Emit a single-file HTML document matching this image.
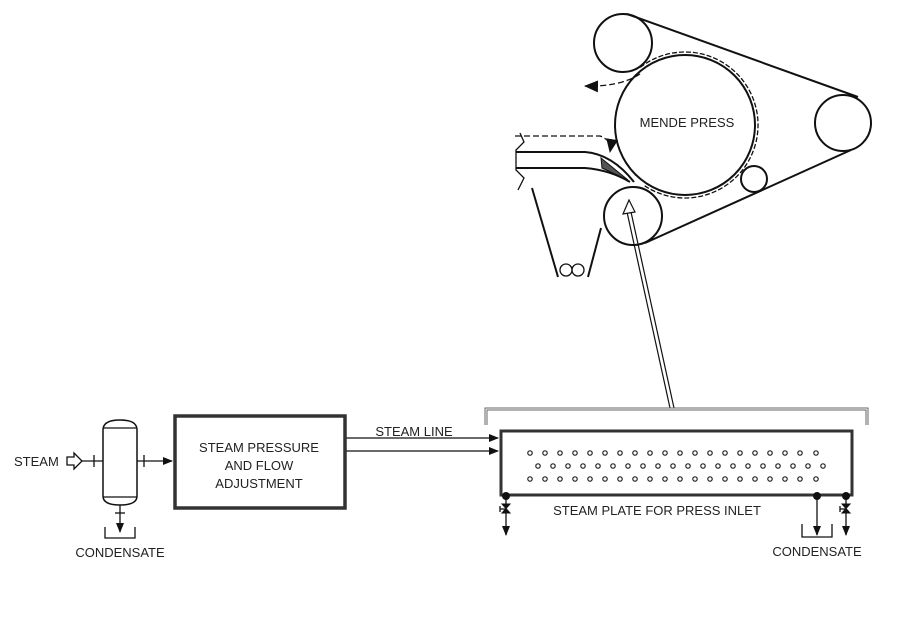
<!DOCTYPE html>
<html><head><meta charset="utf-8"><style>
body{margin:0;background:#fff}
svg{display:block}
text{font-family:"Liberation Sans",sans-serif;font-size:13px;fill:#222}
</style></head><body>
<svg width="900" height="630" viewBox="0 0 900 630" xmlns="http://www.w3.org/2000/svg">
<defs>
<marker id="a" markerWidth="10" markerHeight="8" refX="9" refY="4" orient="auto" markerUnits="userSpaceOnUse"><path d="M0,0L10,4L0,8Z" fill="#111"/></marker>
<marker id="b" markerWidth="14" markerHeight="12" refX="13" refY="6" orient="auto" markerUnits="userSpaceOnUse"><path d="M0,0L14,6L0,12Z" fill="#111"/></marker>
</defs>
<g fill="none" stroke="#111" stroke-width="2">
<circle cx="685" cy="125" r="70"/>
<path d="M640.3,67.3 A73,73 0 1 1 644.5,185.7" stroke-dasharray="5,2" stroke-width="1.3"/>
<circle cx="623" cy="43" r="29"/>
<circle cx="843" cy="123" r="28"/>
<circle cx="754" cy="179" r="13"/>
<circle cx="633" cy="216" r="29"/>
<line x1="627" y1="14" x2="858" y2="97"/>
<line x1="851" y1="150" x2="645" y2="243"/>
<path d="M640,74 Q620,87 585,86" stroke-dasharray="6,3" stroke-width="1.3" marker-end="url(#b)"/>
<path d="M515,136 L600,136 Q612,140 610,152" stroke-dasharray="6,3" stroke-width="1.3" marker-end="url(#b)"/>
<path d="M516,152 L585,152 Q612,154 634,182"/>
<path d="M516,168 L585,168 Q610,170 630,182"/>
<path d="M601,158 L602,168 L628,180 Z" fill="#555" stroke-width="1"/>
<path d="M520,133 L524,142 L516,150 L516,170 L524,178 L518,190" stroke-width="1.3"/>
<line x1="532" y1="188" x2="558" y2="277"/>
<line x1="601" y1="228" x2="588" y2="277"/>
<circle cx="566" cy="270" r="6" stroke-width="1.3"/>
<circle cx="578" cy="270" r="6" stroke-width="1.3"/>
<line x1="674" y1="408" x2="631" y2="212" stroke-width="1.2"/>
<line x1="670" y1="408" x2="627" y2="212" stroke-width="1.2"/>
<path d="M629,200 L623,214 L635,212 Z" fill="#fff" stroke-width="1.2"/>
<path d="M486,425 L486,409 L867,409 L867,425" stroke="#666" stroke-width="3"/>
<path d="M486,425 L486,409 L867,409 L867,425" stroke="#fff" stroke-width="1"/>
<rect x="501" y="431" width="351" height="64" stroke-width="3" stroke="#333"/>
<line x1="345" y1="438" x2="498" y2="438" stroke-width="1.3" marker-end="url(#a)"/>
<line x1="345" y1="451" x2="498" y2="451" stroke-width="1.3" marker-end="url(#a)"/>
<rect x="175" y="416" width="170" height="92" stroke-width="3.5" stroke="#333"/>
<path d="M103,430 Q103,420 120,420 Q137,420 137,430 L137,496 Q137,505 120,505 Q103,505 103,496 Z" stroke-width="1.5"/>
<line x1="103" y1="428" x2="137" y2="428" stroke-width="1.2"/>
<line x1="103" y1="497" x2="137" y2="497" stroke-width="1.2"/>
<path d="M67,457 L74,457 L74,453 L82,461 L74,469 L74,465 L67,465 Z" stroke-width="1.3"/>
<line x1="82" y1="461" x2="103" y2="461" stroke-width="1.3"/>
<line x1="94" y1="455" x2="94" y2="467" stroke-width="1.3"/>
<line x1="137" y1="461" x2="172" y2="461" stroke-width="1.3" marker-end="url(#a)"/>
<line x1="144" y1="455" x2="144" y2="467" stroke-width="1.3"/>
<line x1="120" y1="505" x2="120" y2="532" stroke-width="1.3" marker-end="url(#a)"/>
<line x1="115" y1="513" x2="125" y2="513" stroke-width="1.3"/>
<path d="M105,527 L105,538 L135,538 L135,527" stroke-width="1.3"/>
<circle cx="506" cy="496" r="3" fill="#111"/>
<line x1="506" y1="496" x2="506" y2="535" stroke-width="1.3" marker-end="url(#a)"/>
<path d="M502,504 L510,504 L502,513 L510,513 Z" fill="#111" stroke-width="1"/>
<line x1="500" y1="506" x2="500" y2="512" stroke-width="1.3"/><line x1="500" y1="509" x2="505" y2="509" stroke-width="1.3"/>
<circle cx="846" cy="496" r="3" fill="#111"/>
<line x1="846" y1="496" x2="846" y2="535" stroke-width="1.3" marker-end="url(#a)"/>
<path d="M842,504 L850,504 L842,513 L850,513 Z" fill="#111" stroke-width="1"/>
<line x1="840" y1="506" x2="840" y2="512" stroke-width="1.3"/><line x1="840" y1="509" x2="845" y2="509" stroke-width="1.3"/>
<circle cx="817" cy="496" r="3" fill="#111"/>
<line x1="817" y1="496" x2="817" y2="535" stroke-width="1.3" marker-end="url(#a)"/>
<path d="M802,524 L802,537 L832,537 L832,524" stroke-width="1.3"/>
</g>
<g fill="none" stroke="#222" stroke-width="1.2">
<circle cx="530" cy="453" r="2.2"/><circle cx="545" cy="453" r="2.2"/><circle cx="560" cy="453" r="2.2"/><circle cx="575" cy="453" r="2.2"/><circle cx="590" cy="453" r="2.2"/><circle cx="605" cy="453" r="2.2"/><circle cx="620" cy="453" r="2.2"/><circle cx="635" cy="453" r="2.2"/><circle cx="650" cy="453" r="2.2"/><circle cx="665" cy="453" r="2.2"/><circle cx="680" cy="453" r="2.2"/><circle cx="695" cy="453" r="2.2"/><circle cx="710" cy="453" r="2.2"/><circle cx="725" cy="453" r="2.2"/><circle cx="740" cy="453" r="2.2"/><circle cx="755" cy="453" r="2.2"/><circle cx="770" cy="453" r="2.2"/><circle cx="785" cy="453" r="2.2"/><circle cx="800" cy="453" r="2.2"/><circle cx="816" cy="453" r="2.2"/>
<circle cx="538" cy="466" r="2.2"/><circle cx="553" cy="466" r="2.2"/><circle cx="568" cy="466" r="2.2"/><circle cx="583" cy="466" r="2.2"/><circle cx="598" cy="466" r="2.2"/><circle cx="613" cy="466" r="2.2"/><circle cx="628" cy="466" r="2.2"/><circle cx="643" cy="466" r="2.2"/><circle cx="658" cy="466" r="2.2"/><circle cx="673" cy="466" r="2.2"/><circle cx="688" cy="466" r="2.2"/><circle cx="703" cy="466" r="2.2"/><circle cx="718" cy="466" r="2.2"/><circle cx="733" cy="466" r="2.2"/><circle cx="748" cy="466" r="2.2"/><circle cx="763" cy="466" r="2.2"/><circle cx="778" cy="466" r="2.2"/><circle cx="793" cy="466" r="2.2"/><circle cx="808" cy="466" r="2.2"/><circle cx="823" cy="466" r="2.2"/>
<circle cx="530" cy="479" r="2.2"/><circle cx="545" cy="479" r="2.2"/><circle cx="560" cy="479" r="2.2"/><circle cx="575" cy="479" r="2.2"/><circle cx="590" cy="479" r="2.2"/><circle cx="605" cy="479" r="2.2"/><circle cx="620" cy="479" r="2.2"/><circle cx="635" cy="479" r="2.2"/><circle cx="650" cy="479" r="2.2"/><circle cx="665" cy="479" r="2.2"/><circle cx="680" cy="479" r="2.2"/><circle cx="695" cy="479" r="2.2"/><circle cx="710" cy="479" r="2.2"/><circle cx="725" cy="479" r="2.2"/><circle cx="740" cy="479" r="2.2"/><circle cx="755" cy="479" r="2.2"/><circle cx="770" cy="479" r="2.2"/><circle cx="785" cy="479" r="2.2"/><circle cx="800" cy="479" r="2.2"/><circle cx="816" cy="479" r="2.2"/>
</g>
<text x="687" y="127" text-anchor="middle">MENDE PRESS</text>
<text x="14" y="466">STEAM</text>
<text x="120" y="557" text-anchor="middle">CONDENSATE</text>
<text x="259" y="452" text-anchor="middle">STEAM PRESSURE</text>
<text x="259" y="470" text-anchor="middle">AND FLOW</text>
<text x="259" y="488" text-anchor="middle">ADJUSTMENT</text>
<text x="414" y="436" text-anchor="middle">STEAM LINE</text>
<text x="657" y="515" text-anchor="middle">STEAM PLATE FOR PRESS INLET</text>
<text x="817" y="556" text-anchor="middle">CONDENSATE</text>
</svg>
</body></html>
